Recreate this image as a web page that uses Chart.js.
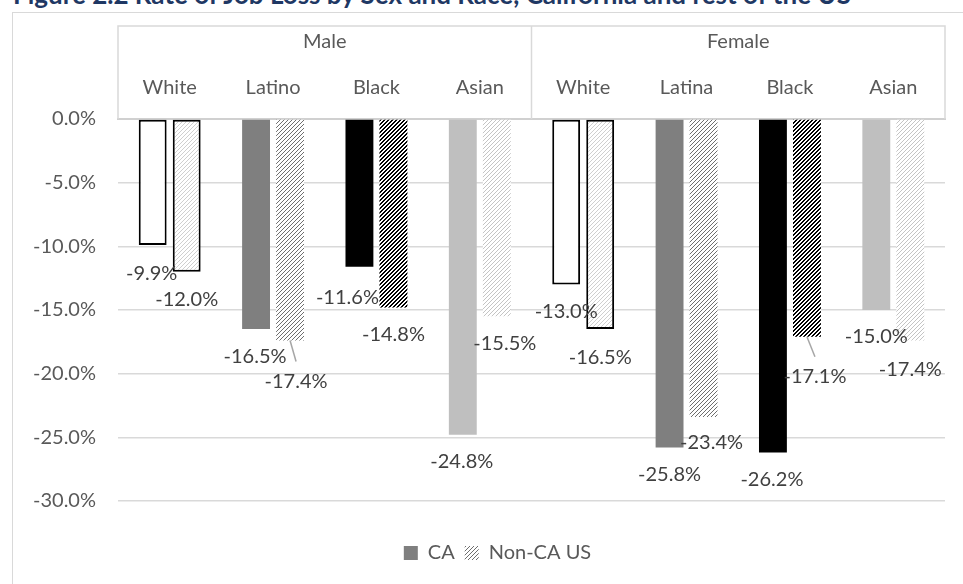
<!DOCTYPE html>
<html>
<head>
<meta charset="utf-8">
<script src="https://cdn.jsdelivr.net/npm/chart.js@4.4.1/dist/chart.umd.min.js"></script>
<style>
  html, body { margin: 0; padding: 0; background: #fff; width: 963px; height: 584px; overflow: hidden; position: relative; }
  #title { position: absolute; left: 13px; top: -19px; font: bold 26px Lato, sans-serif; line-height: 26px; color: #1F3864; white-space: nowrap; }
  #frame { position: absolute; left: 12px; top: 12px; width: 1000px; height: 620px; border-left: 1.5px solid #D9D9D9; border-top: 1.5px solid #D9D9D9; }
  #c { position: absolute; left: 0; top: 0; }
</style>
</head>
<body>
<div id="title">Figure 2.2 Rate of Job Loss by Sex and Race, California and rest of the US</div>
<div id="frame"></div>
<canvas id="c" width="1013" height="584"></canvas>
<script>
// ---- data ----
const sexes = ['Male', 'Female'];
const races = ['White', 'Latino', 'Black', 'Asian', 'White', 'Latina', 'Black', 'Asian'];
const seriesNames = ['CA', 'Non-CA US'];
const caValues = [-9.9, -16.5, -11.6, -24.8, -13.0, -25.8, -26.2, -15.0];
const nonCaValues = [-12.0, -17.4, -14.8, -15.5, -16.5, -23.4, -17.1, -17.4];
const yTicks = [0, -5, -10, -15, -20, -25, -30];

// ---- styling ----
const FONT = 'Lato';
const AXIS_GREY = '#595959';
const LABEL_GREY = '#404040';

// diagonal "/" hatch tile
function hatch(color, thick) {
  const c = document.createElement('canvas');
  c.width = 4; c.height = 4;
  const g = c.getContext('2d');
  g.fillStyle = '#fff';
  g.fillRect(0, 0, 4, 4);
  g.fillStyle = color;
  for (let i = 0; i < 4; i++) {
    g.fillRect(i, 3 - i, 1, 1);
    if (thick) g.fillRect((i + 1) % 4, 3 - i, 1, 1);
  }
  return g.createPattern(c, 'repeat');
}

// value label nudges [dx, dy] measured from the end of each bar
const labelNudge = [
  [[-1, 28], [-1, 27], [-12, 31], [-1, 27], [0, 27], [0, 27], [-1, 27], [0, 27]],
  [[0, 28], [6, 41], [0, 27], [8, 27], [0, 28], [8, 26], [8, 40], [0, 29]]
];
// bars whose label is tied back with a leader line
const leaderLines = [[], [1, 6]];

function draw() {
  const lightHatch = hatch('#CFCFCF', false);
  const paleHatch = hatch('#C4C4C4', false);
  const greyHatch = hatch('#6E6E6E', false);
  const blackHatch = hatch('#000000', true);

  const caFill = ['#FFFFFF', '#7F7F7F', '#000000', '#BFBFBF', '#FFFFFF', '#7F7F7F', '#000000', '#BFBFBF'];
  const nonCaFill = [lightHatch, greyHatch, blackHatch, paleHatch, lightHatch, greyHatch, blackHatch, paleHatch];
  const outline = [2, 0, 0, 0, 2, 0, 0, 0];

  // boxed two-level header above the bars
  const headerBox = {
    id: 'headerBox',
    afterDraw(chart) {
      const { ctx, chartArea: a, scales: { x, x2 } } = chart;
      const top = x2.top;
      const mid = (x.getPixelForValue(3) + x.getPixelForValue(4)) / 2;
      ctx.save();
      ctx.strokeStyle = '#D9D9D9';
      ctx.lineWidth = 1.5;
      ctx.beginPath();
      ctx.moveTo(a.left, a.top); ctx.lineTo(a.left, top);
      ctx.lineTo(a.right, top); ctx.lineTo(a.right, a.top);
      ctx.moveTo(mid, top); ctx.lineTo(mid, a.top);
      ctx.stroke();
      ctx.restore();
    }
  };

  // percentage labels under each bar
  const valueLabels = {
    id: 'valueLabels',
    afterDatasetsDraw(chart) {
      const ctx = chart.ctx;
      ctx.save();
      ctx.font = '20px ' + FONT;
      ctx.textAlign = 'center';
      ctx.textBaseline = 'middle';
      chart.data.datasets.forEach((ds, di) => {
        chart.getDatasetMeta(di).data.forEach((bar, i) => {
          const [dx, dy] = labelNudge[di][i];
          const tx = bar.x + dx, ty = bar.y + dy;
          if (leaderLines[di].includes(i)) {
            ctx.strokeStyle = '#A6A6A6';
            ctx.lineWidth = 1.5;
            ctx.beginPath();
            ctx.moveTo(bar.x, bar.y);
            ctx.lineTo(tx, ty - 20);
            ctx.stroke();
          }
          ctx.fillStyle = LABEL_GREY;
          ctx.fillText(ds.data[i].toFixed(1) + '%', tx, ty);
        });
      });
      ctx.restore();
    }
  };

  new Chart(document.getElementById('c'), {
    type: 'bar',
    data: {
      labels: races,
      datasets: [
        { label: seriesNames[0], data: caValues, backgroundColor: caFill,
          borderColor: '#000', borderWidth: outline, borderSkipped: false },
        { label: seriesNames[1], data: nonCaValues, backgroundColor: nonCaFill,
          borderColor: '#000', borderWidth: outline, borderSkipped: false }
      ]
    },
    options: {
      responsive: false,
      animation: false,
      categoryPercentage: 0.658,
      barPercentage: 0.82,
      layout: { padding: { left: 0, right: 18, top: 26, bottom: 11 } },
      scales: {
        x: {
          type: 'category', position: 'top', offset: true, weight: 0,
          grid: { display: false, drawTicks: false },
          border: { display: true, color: '#D0D0D0', width: 2 },
          ticks: { font: { family: FONT, size: 20 }, color: AXIS_GREY, padding: 19, maxRotation: 0, autoSkip: false },
          afterFit(s) { s.height = 54; }
        },
        x2: {
          type: 'category', labels: sexes, position: 'top', offset: true, weight: 1,
          grid: { display: false, drawTicks: false },
          border: { display: false },
          ticks: { font: { family: FONT, size: 20 }, color: AXIS_GREY, padding: 11, maxRotation: 0 },
          afterFit(s) { s.height = 39; }
        },
        y: {
          min: -30, max: 0,
          afterBuildTicks(s) { s.ticks = yTicks.map(v => ({ value: v })); },
          ticks: { font: { family: FONT, size: 20 }, color: AXIS_GREY, padding: 22,
                   callback: v => v.toFixed(1) + '%' },
          grid: { color: '#D9D9D9', lineWidth: 1.5, drawTicks: false },
          border: { display: false },
          afterFit(s) { s.width = 118; }
        },
        // blank margin on the right so the legend sits centred under the frame
        yGap: {
          position: 'right', display: true,
          ticks: { display: false },
          grid: { display: false, drawTicks: false },
          border: { display: false },
          afterFit(s) { s.width = 50; }
        }
      },
      plugins: {
        tooltip: { enabled: false },
        legend: {
          position: 'bottom', align: 'center',
          title: { display: true, text: '', font: { size: 10 }, padding: { top: 20, bottom: 0 } },
          labels: {
            boxWidth: 14, boxHeight: 14, padding: 10, color: AXIS_GREY,
            font: { family: FONT, size: 20 },
            generateLabels() {
              return [
                { text: seriesNames[0], fillStyle: '#7F7F7F', strokeStyle: '#7F7F7F', lineWidth: 0, datasetIndex: 0, fontColor: AXIS_GREY },
                { text: seriesNames[1], fillStyle: greyHatch, strokeStyle: '#fff', lineWidth: 0, datasetIndex: 1, fontColor: AXIS_GREY }
              ];
            }
          }
        }
      }
    },
    plugins: [headerBox, valueLabels]
  });
}

if (document.fonts && document.fonts.load) {
  document.fonts.load('20px ' + FONT).then(draw, draw);
} else {
  draw();
}
</script>
</body>
</html>
